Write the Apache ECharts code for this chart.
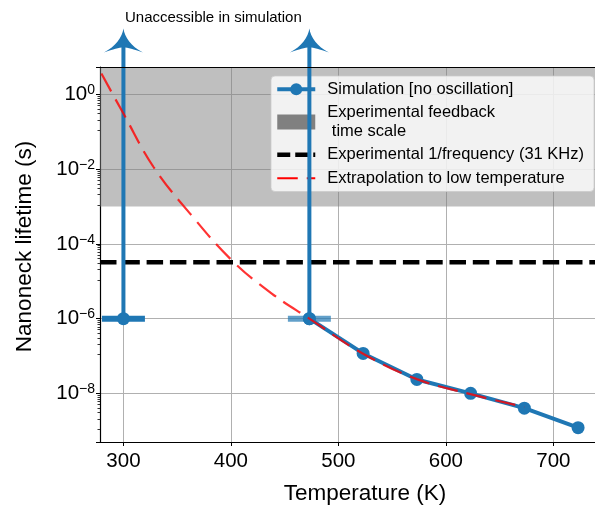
<!DOCTYPE html>
<html><head><meta charset="utf-8">
<script src="https://cdn.jsdelivr.net/npm/echarts@6/dist/echarts.min.js"></script>
<style>html,body{margin:0;padding:0;background:#fff}#c{width:595px;height:511px}</style>
</head><body><div id="c"></div>
<script>
// ---- data ----
const simTemps = [473, 523, 573, 623, 673, 723];
const simLifetimes = [1.0e-6, 1.17e-7, 2.35e-8, 1.0e-8, 4.0e-9, 1.2e-9];
const arrowTemps = [300, 473];          // points limited by simulation time
const arrowLifetime = 1.0e-6;           // lower bound
const arrowTip = 28;                    // arrow head position (above plot)
const tempErr = 20;                     // temperature error bar half-width
const extrapTemps = [279.5, 300, 328, 362, 401, 438, 473, 523, 573, 623, 673];
const extrapLifetimes = [3.65, 0.31, 0.0115, 6.5e-4, 3.6e-5, 4.7e-6, 1.0e-6, 1.15e-7, 2.4e-8, 9.5e-9, 4.3e-9];
const feedbackLow = 1e-3;               // experimental feedback time scale lower edge
const expPeriod = 1 / 31000;            // 1/frequency (31 KHz)
const xMin = 278.2, xMax = 771.3;
const yMin = 4.97e-10, yMax = 5.48;
const seriesNames = [
  'Simulation [no oscillation]',
  'Experimental feedback\n time scale',
  'Experimental 1/frequency (31 KHz)',
  'Extrapolation to low temperature'
];
const annotation = 'Unaccessible in simulation';
const xTitle = 'Temperature (K)';
const yTitle = 'Nanoneck lifetime (s)';

// ---- chart ----
const FONT = "'Liberation Sans', Arial, Helvetica, sans-serif";
const BLUE = '#1f77b4';
const ARROW = 'path://M50,0 C53,35 70,75 100,100 C75,86 62,80 50,78 C38,80 25,86 0,100 C30,75 47,35 50,0 Z';
const BLACK_DASH = [16.5, 6.8];
const RED_DASH = [20.5, 9];

const chart = echarts.init(document.getElementById('c'), null, {renderer: 'canvas'});

const series = [];
series.push({
  name: seriesNames[0], type: 'line', z: 5,
  data: simTemps.map((t, i) => [t, simLifetimes[i]]),
  symbol: 'circle', symbolSize: 13,
  lineStyle: {width: 4, color: BLUE}, itemStyle: {color: BLUE},
  emphasis: {disabled: true}
});
arrowTemps.forEach((t, i) => {
  series.push({
    name: seriesNames[0], type: 'line', z: 4,
    data: [[t - tempErr, arrowLifetime], [t + tempErr, arrowLifetime]],
    symbol: 'none',
    lineStyle: {width: 6, color: BLUE, opacity: i === 0 ? 1 : 0.7},
    emphasis: {disabled: true}
  });
  series.push({
    name: seriesNames[0], type: 'line', z: 4, clip: false,
    data: [
      {value: [t, arrowLifetime], symbol: 'circle', symbolSize: 13},
      {value: [t, arrowTip], symbol: ARROW, symbolSize: [39, 24]}
    ],
    lineStyle: {width: 4, color: BLUE}, itemStyle: {color: BLUE},
    emphasis: {disabled: true}
  });
});
series.push({
  name: seriesNames[1], type: 'line', data: [[xMin, feedbackLow], [xMax, feedbackLow]],
  symbol: 'none', z: 1,
  itemStyle: {color: '#808080'}, lineStyle: {color: '#808080', width: 0, opacity: 0},
  markArea: {
    silent: true,
    itemStyle: {color: 'rgba(128,128,128,0.5)'},
    label: {show: false},
    data: [[{yAxis: feedbackLow}, {yAxis: yMax}]]
  },
  emphasis: {disabled: true}
});
series.push({
  name: seriesNames[2], type: 'line', data: [[xMin, expPeriod], [xMax, expPeriod]],
  symbol: 'none', z: 3,
  itemStyle: {color: '#000'}, lineStyle: {color: '#000', width: 4.5, type: BLACK_DASH},
  emphasis: {disabled: true}
});
series.push({
  name: seriesNames[3], type: 'line', z: 6,
  data: extrapTemps.map((t, i) => [t, extrapLifetimes[i]]),
  smooth: 0.4, symbol: 'none',
  lineStyle: {color: 'rgba(255,0,0,0.8)', width: 2.2, type: RED_DASH},
  itemStyle: {color: '#ff0000'},
  emphasis: {disabled: true}
});

function expLabel(v) {
  const e = Math.round(Math.log10(v));
  return '{b|10}{s|' + (e < 0 ? '\u2212' : '') + Math.abs(e) + '}';
}

chart.setOption({
  animation: false,
  backgroundColor: '#fff',
  textStyle: {fontFamily: FONT},
  title: {
    text: annotation, left: 120, top: 5,
    textStyle: {fontSize: 15, fontWeight: 'normal', color: '#000', fontFamily: FONT}
  },
  grid: {left: 100, top: 67, right: -35, bottom: 69, outerBoundsMode: 'none', containLabel: false, show: false},
  legend: {
    orient: 'vertical', left: 271, top: 76,
    padding: [4, 10, 4, 4], itemGap: 5, itemWidth: 38, itemHeight: 15,
    selectedMode: false,
    backgroundColor: 'rgba(255,255,255,0.8)', borderColor: 'rgba(204,204,204,0.8)', borderWidth: 1, borderRadius: 4,
    textStyle: {fontSize: 16.5, color: '#000', lineHeight: 18.5, fontFamily: FONT, padding: [0, 0, 0, 7]},
    data: [
      {name: seriesNames[0], itemStyle: {color: BLUE}, lineStyle: {color: BLUE, width: 4}},
      {name: seriesNames[1], icon: 'rect', itemStyle: {color: '#808080'}},
      {name: seriesNames[2], itemStyle: {color: 'rgba(0,0,0,0)', borderWidth: 0}, lineStyle: {color: '#000', width: 4.5, type: [13, 5]}},
      {name: seriesNames[3], itemStyle: {color: 'rgba(0,0,0,0)', borderWidth: 0}, lineStyle: {color: '#ff0000', width: 2.2, type: RED_DASH}}
    ]
  },
  xAxis: [{
    type: 'value', min: xMin, max: xMax, splitNumber: 5,
    name: xTitle, nameLocation: 'middle', nameGap: 40,
    nameTextStyle: {fontSize: 22.5, color: '#000', fontFamily: FONT},
    axisLine: {show: true, onZero: false, lineStyle: {color: '#000', width: 1.2}},
    axisTick: {show: true, length: 4, lineStyle: {color: '#000', width: 1}},
    axisLabel: {showMinLabel: false, showMaxLabel: false, fontSize: 20.5, color: '#000', margin: 9, fontFamily: FONT},
    splitLine: {show: true, lineStyle: {color: '#b0b0b0', width: 1}}
  }, {
    type: 'value', position: 'top', min: xMin, max: xMax, z: 10,
    axisLine: {show: true, onZero: false, lineStyle: {color: '#000', width: 1.2}},
    axisTick: {show: false}, axisLabel: {show: false}, splitLine: {show: false}
  }],
  yAxis: [{
    type: 'log', logBase: 100, min: yMin, max: yMax,
    name: yTitle, nameLocation: 'middle', nameGap: 64, nameRotate: 90,
    nameTextStyle: {fontSize: 22.5, color: '#000', fontFamily: FONT, padding: [0, 0, 0, 16]},
    axisLine: {show: true, onZero: false, lineStyle: {color: '#000', width: 1.2}},
    axisTick: {show: true, length: 4, lineStyle: {color: '#000', width: 1}},
    minorTick: {show: true, splitNumber: 10, length: 2.5, lineStyle: {color: '#000', width: 0.8}},
    splitLine: {show: true, lineStyle: {color: '#b0b0b0', width: 1}},
    axisLabel: {
      showMinLabel: false, showMaxLabel: false, margin: 5, color: '#000',
      formatter: expLabel,
      rich: {
        b: {fontSize: 20.5, lineHeight: 22, color: '#000', fontFamily: FONT},
        s: {fontSize: 14, lineHeight: 14, verticalAlign: 'top', color: '#000', fontFamily: FONT}
      }
    }
  }],
  series: series
});
</script></body></html>
